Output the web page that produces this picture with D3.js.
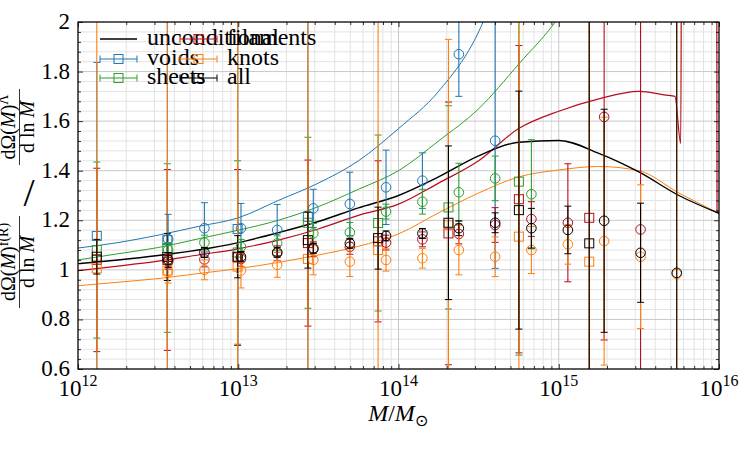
<!DOCTYPE html>
<html>
<head>
<meta charset="utf-8">
<script src="https://cdn.jsdelivr.net/npm/d3@7"></script>
<style>
  body { margin: 0; background: #fff; }
  svg text { font-family: "Liberation Serif", "Times New Roman", serif; fill: #000; }
</style>
</head>
<body>
<svg id="chart" width="750" height="450"></svg>
<script>
// ---- data ----
// theory curves (mass, ratio)
const curveMass = [1e12, 1.778e12, 3.162e12, 5.623e12, 1e13, 1.778e13, 3.162e13, 5.623e13,
                   1e14, 1.778e14, 3.162e14, 5.623e14, 1e15, 1.778e15, 3.162e15, 5.623e15, 1e16];
const uncond   = [1.025, 1.04, 1.058, 1.08, 1.11, 1.15, 1.195, 1.25, 1.30, 1.375, 1.46, 1.515, 1.522, 1.47, 1.395, 1.30, 1.228];
const voidsTh  = [1.088, 1.11, 1.14, 1.175, 1.21, 1.28, 1.35, 1.44, 1.57, 1.72, 1.96, 2.4, null, null, null, null, null];
const sheetsTh = [1.04, 1.065, 1.09, 1.125, 1.16, 1.20, 1.255, 1.325, 1.40, 1.52, 1.65, 1.83, 2.02, 2.3, null, null, null];
const knotsTh  = [0.936, 0.95, 0.965, 0.985, 1.005, 1.03, 1.06, 1.095, 1.145, 1.23, 1.31, 1.375, 1.403, 1.417, 1.40, 1.31, 1.228];
const filMass  = [1e12, 1.778e12, 3.162e12, 5.623e12, 1e13, 1.778e13, 3.162e13, 5.623e13, 1e14, 1.778e14,
                  3.162e14, 5.623e14, 1e15, 1.778e15, 3.162e15, 4.68e15, 5.31e15, 5.77e15, 5.85e15, 9.68e15, 9.72e15, 1e16];
const filTh    = [0.997, 1.015, 1.035, 1.06, 1.085, 1.12, 1.165, 1.22, 1.265, 1.35, 1.44, 1.57, 1.64, 1.69, 1.72,
                  1.705, 1.70, 1.51, 2.5, 2.5, 1.24, 1.228];

// measured points, squares
const massSq     = [1.31e12, 3.61e12, 9.91e12, 2.72e13, 7.46e13, 2.05e14, 5.64e14, 1.55e15];
const voidsSq    = [1.137, 1.12, 1.165, 1.214, null, null, null, null];
const voidsSqErr = [0.70, 0.9, 0.9, 0.9, null, null, null, null];
const sheetsSq    = [1.08, 1.088, 1.07, 1.19, 1.189, 1.252, 1.356, null];
const sheetsSqErr = [0.355, 0.34, 0.37, 0.345, 0.355, 0.41, 0.7, null];
const filSq    = [1.04, 1.04, 1.05, 1.108, 1.115, 1.147, 1.285, 1.21];
const filSqErr = [0.37, 0.365, 0.355, 0.335, 0.325, 0.53, 0.62, 1.5];
const knotsSq    = [1.006, 0.997, 1.013, 1.044, 1.08, 1.18, 1.134, 1.033];
const knotsSqErr = [1.5, 1.5, 1.5, 1.5, 1.5, 0.75, 1.5, 1.5];
const allSq    = [1.053, 1.052, 1.053, 1.12, 1.128, 1.19, 1.241, 1.107];
const allSqErr = [0.07, 0.095, 0.085, 0.113, 0.125, 0.31, 0.48, 1.5];

// measured points, circles
const massCi = [3.65e12, 6.15e12, 1.04e13, 1.75e13, 2.94e13, 4.97e13, 8.36e13, 1.41e14,
                2.38e14, 4.01e14, 6.75e14, 1.14e15, 1.92e15, 3.24e15, 5.45e15];
const voidsCi    = [1.124, 1.168, 1.168, 1.161, 1.248, 1.266, 1.333, 1.36, 1.87, 1.521, null, null, null, null, null];
const voidsCiErr = [0.10, 0.103, 0.10, 0.103, 0.077, 0.128, 0.15, 0.112, 0.17, 0.515, null, null, null, null, null];
const sheetsCi    = [1.08, 1.11, 1.093, 1.107, 1.147, 1.151, 1.235, 1.275, 1.313, 1.369, 1.305, null, null, null, null];
const sheetsCiErr = [0.03, 0.03, 0.03, 0.03, 0.04, 0.04, 0.03, 0.05, 0.117, 0.09, 0.22, null, null, null, null];
const filCi    = [1.033, 1.042, 1.044, 1.067, 1.083, 1.093, 1.11, 1.123, 1.145, 1.181, 1.205, 1.19, 1.617, 1.163, null];
const filCiErr = [0.03, 0.03, 0.03, 0.03, 0.03, 0.03, 0.03, 0.03, 0.04, 0.07, 0.07, 0.238, 0.9, 1.5, null];
const knotsCi    = [0.992, 1.0, 0.997, 1.02, 1.04, 1.033, 1.04, 1.047, 1.08, 1.053, 1.08, 1.103, 1.116, 1.053, 0.983];
const knotsCiErr = [0.045, 0.04, 0.07, 0.05, 0.06, 0.06, 0.045, 0.04, 0.1, 0.08, 0.095, 0.08, 0.5, 0.29, 1.5];
const allCi    = [1.04, 1.07, 1.053, 1.071, 1.087, 1.107, 1.137, 1.147, 1.168, 1.19, 1.168, 1.161, 1.198, 1.069, 0.988];
const allCiErr = [0.03, 0.02, 0.02, 0.02, 0.02, 0.02, 0.02, 0.02, 0.03, 0.04, 0.08, 0.096, 0.45, 0.2, 1.5];

// ticks
const xMajor = [1e12, 1e13, 1e14, 1e15, 1e16];
const xExp = ["12", "13", "14", "15", "16"];
const yMajor = [0.6, 0.8, 1.0, 1.2, 1.4, 1.6, 1.8, 2.0];
const yLabels = ["0.6", "0.8", "1", "1.2", "1.4", "1.6", "1.8", "2"];

const colors = {uncond: "#000000", voids: "#1f77b4", sheets: "#2ca02c", fil: "#b80c1a", knots: "#ff7f0e", all: "#000000"};
const serif = "'Liberation Serif', 'Times New Roman', serif";

// ---- layout ----
const svg = d3.select("#chart").style("font-family", serif);
const pL = 78, pR = 719, pT = 22, pB = 369;

const x = d3.scaleLog().domain([1e12, 1e16]).range([pL, pR]);
const y = d3.scaleLinear().domain([0.6, 2]).range([pB, pT]);

svg.append("defs").append("clipPath").attr("id", "plotclip")
  .append("rect").attr("x", pL).attr("y", pT).attr("width", pR - pL).attr("height", pB - pT);

// grid
const xMinor = [];
xMajor.slice(0, 4).forEach(d => { for (let m = 2; m <= 9; m++) xMinor.push(d * m); });
const yMinor = d3.range(0.6, 2.0001, 0.04).filter(v => !yMajor.some(t => Math.abs(t - v) < 1e-6));

const grid = svg.append("g");
grid.selectAll(".gxm").data(xMinor).enter().append("line")
  .attr("x1", d => x(d)).attr("x2", d => x(d)).attr("y1", pT).attr("y2", pB)
  .attr("stroke", "#e3e3e3").attr("stroke-width", 1);
grid.selectAll(".gym").data(yMinor).enter().append("line")
  .attr("x1", pL).attr("x2", pR).attr("y1", d => y(d)).attr("y2", d => y(d))
  .attr("stroke", "#e3e3e3").attr("stroke-width", 1);
grid.selectAll(".gx").data(xMajor).enter().append("line")
  .attr("x1", d => x(d)).attr("x2", d => x(d)).attr("y1", pT).attr("y2", pB)
  .attr("stroke", "#c8c8c8").attr("stroke-width", 1);
grid.selectAll(".gy").data(yMajor).enter().append("line")
  .attr("x1", pL).attr("x2", pR).attr("y1", d => y(d)).attr("y2", d => y(d))
  .attr("stroke", "#c8c8c8").attr("stroke-width", 1);

const plot = svg.append("g").attr("clip-path", "url(#plotclip)");

// theory curves
const line = d3.line()
  .defined(d => d[1] != null)
  .x(d => x(d[0])).y(d => y(d[1]))
  .curve(d3.curveMonotoneX);

function drawCurve(mass, vals, color, w) {
  plot.append("path")
    .datum(mass.map((m, i) => [m, vals[i]]))
    .attr("d", line)
    .attr("fill", "none").attr("stroke", color).attr("stroke-width", w);
}
drawCurve(curveMass, voidsTh, colors.voids, 1);
drawCurve(curveMass, sheetsTh, colors.sheets, 1);
drawCurve(filMass, filTh, colors.fil, 1.2);
drawCurve(curveMass, knotsTh, colors.knots, 1);
drawCurve(curveMass, uncond, colors.uncond, 1.4);

// data points with error bars
function drawPoints(mass, vals, errs, color, shape) {
  const pts = mass.map((m, i) => ({m: m, v: vals[i], e: errs[i]})).filter(d => d.v != null);
  const g = plot.append("g");
  g.selectAll(".eb").data(pts).enter().append("line")
    .attr("x1", d => x(d.m)).attr("x2", d => x(d.m))
    .attr("y1", d => y(d.v - d.e)).attr("y2", d => y(d.v + d.e))
    .attr("stroke", color).attr("stroke-width", 1.1);
  [-1, 1].forEach(s => {
    g.selectAll(".cap").data(pts).enter().append("line")
      .attr("x1", d => x(d.m) - 3.5).attr("x2", d => x(d.m) + 3.5)
      .attr("y1", d => y(d.v + s * d.e)).attr("y2", d => y(d.v + s * d.e))
      .attr("stroke", color).attr("stroke-width", 1);
  });
  if (shape === "square") {
    g.selectAll(".mk").data(pts).enter().append("rect")
      .attr("x", d => x(d.m) - 4.5).attr("y", d => y(d.v) - 4.5)
      .attr("width", 9).attr("height", 9)
      .attr("fill", "none").attr("stroke", color).attr("stroke-width", 1);
  } else {
    g.selectAll(".mk").data(pts).enter().append("circle")
      .attr("cx", d => x(d.m)).attr("cy", d => y(d.v)).attr("r", 4.8)
      .attr("fill", "none").attr("stroke", color).attr("stroke-width", 1);
  }
}
drawPoints(massSq, voidsSq, voidsSqErr, colors.voids, "square");
drawPoints(massSq, sheetsSq, sheetsSqErr, colors.sheets, "square");
drawPoints(massSq, filSq, filSqErr, colors.fil, "square");
drawPoints(massSq, knotsSq, knotsSqErr, colors.knots, "square");
drawPoints(massSq, allSq, allSqErr, colors.all, "square");
drawPoints(massCi, voidsCi, voidsCiErr, colors.voids, "circle");
drawPoints(massCi, sheetsCi, sheetsCiErr, colors.sheets, "circle");
drawPoints(massCi, filCi, filCiErr, colors.fil, "circle");
drawPoints(massCi, knotsCi, knotsCiErr, colors.knots, "circle");
drawPoints(massCi, allCi, allCiErr, colors.all, "circle");

// axes (ticks inside, on all four sides)
svg.append("g").attr("transform", "translate(0," + pB + ")")
  .call(d3.axisBottom(x).tickValues(xMajor).tickSize(-5).tickFormat(""));
svg.append("g").attr("transform", "translate(0," + pT + ")")
  .call(d3.axisTop(x).tickValues(xMajor).tickSize(-5).tickFormat(""));
svg.append("g").attr("transform", "translate(0," + pB + ")")
  .call(d3.axisBottom(x).tickValues(xMinor).tickSize(-3).tickFormat(""));
svg.append("g").attr("transform", "translate(0," + pT + ")")
  .call(d3.axisTop(x).tickValues(xMinor).tickSize(-3).tickFormat(""));
svg.append("g").attr("transform", "translate(" + pL + ",0)")
  .call(d3.axisLeft(y).tickValues(yMajor).tickSize(-5).tickFormat(""));
svg.append("g").attr("transform", "translate(" + pR + ",0)")
  .call(d3.axisRight(y).tickValues(yMajor).tickSize(-5).tickFormat(""));
svg.append("g").attr("transform", "translate(" + pL + ",0)")
  .call(d3.axisLeft(y).tickValues(yMinor).tickSize(-3).tickFormat(""));
svg.append("g").attr("transform", "translate(" + pR + ",0)")
  .call(d3.axisRight(y).tickValues(yMinor).tickSize(-3).tickFormat(""));
svg.selectAll(".domain").remove();
svg.selectAll(".tick line").attr("stroke", "#000").attr("stroke-width", 0.8);

svg.append("rect").attr("x", pL).attr("y", pT).attr("width", pR - pL).attr("height", pB - pT)
  .attr("fill", "none").attr("stroke", "#000").attr("stroke-width", 1.2);

// tick labels
xMajor.forEach((d, i) => {
  const t = svg.append("text").attr("x", x(d)).attr("y", 396).attr("text-anchor", "middle")
    .style("font-family", serif).style("font-size", "23px");
  t.append("tspan").text("10");
  t.append("tspan").attr("dy", -10).style("font-size", "16px").text(xExp[i]);
});
yMajor.forEach((d, i) => {
  svg.append("text").attr("x", 70).attr("y", y(d) + 7).attr("text-anchor", "end")
    .style("font-family", serif).style("font-size", "23px").text(yLabels[i]);
});

// axis labels
const xl = svg.append("text").attr("x", 398).attr("y", 421).attr("text-anchor", "middle")
  .style("font-family", serif).style("font-size", "24px");
xl.append("tspan").style("font-style", "italic").text("M");
xl.append("tspan").text("/");
xl.append("tspan").style("font-style", "italic").text("M");
xl.append("tspan").attr("dy", 5).style("font-size", "16px").text("\u2299");

function fraction(cy, sup, half) {
  const g = svg.append("g").attr("transform", "translate(0," + cy + ") rotate(-90)")
    .style("font-family", serif);
  const n = g.append("text").attr("x", 0).attr("y", 15).attr("text-anchor", "middle").style("font-size", "20px");
  n.append("tspan").text("d\u03a9(");
  n.append("tspan").style("font-style", "italic").text("M");
  n.append("tspan").text(")");
  n.append("tspan").attr("dy", -7).style("font-size", "14px").text(sup);
  g.append("line").attr("x1", -half).attr("x2", half).attr("y1", 19.5).attr("y2", 19.5)
    .attr("stroke", "#000").attr("stroke-width", 0.8);
  const dd = g.append("text").attr("x", 0).attr("y", 34).attr("text-anchor", "middle").style("font-size", "20px");
  dd.append("tspan").text("d ln ");
  dd.append("tspan").style("font-style", "italic").text("M");
}
fraction(262, "f(R)", 46);
fraction(127, "\u039b", 38);
svg.append("text").attr("x", 29).attr("y", 206).attr("text-anchor", "middle")
  .style("font-family", serif).style("font-size", "40px").text("/");

// legend
const legRows = [39, 59, 78];
const legend = [
  {label: "unconditional", color: colors.uncond, col: 0, row: 0, marker: false},
  {label: "voids", color: colors.voids, col: 0, row: 1, marker: true},
  {label: "sheets", color: colors.sheets, col: 0, row: 2, marker: true},
  {label: "filaments", color: colors.fil, col: 1, row: 0, marker: true},
  {label: "knots", color: colors.knots, col: 1, row: 1, marker: true},
  {label: "all", color: colors.all, col: 1, row: 2, marker: true}
];
const legX = [100, 180];
legend.forEach(d => {
  const x0 = legX[d.col], yy = legRows[d.row];
  const g = svg.append("g");
  g.append("line").attr("x1", x0).attr("x2", x0 + 37).attr("y1", yy).attr("y2", yy)
    .attr("stroke", d.color).attr("stroke-width", d.marker ? 1 : 1.3);
  if (d.marker) {
    [x0, x0 + 37].forEach(cx => g.append("line").attr("x1", cx).attr("x2", cx)
      .attr("y1", yy - 3.5).attr("y2", yy + 3.5).attr("stroke", d.color));
    g.append("rect").attr("x", x0 + 18.5 - 4.5).attr("y", yy - 4.5).attr("width", 9).attr("height", 9)
      .attr("fill", "none").attr("stroke", d.color);
  }
  g.append("text").attr("x", x0 + 47).attr("y", yy + 6)
    .style("font-family", serif).style("font-size", "24px").text(d.label);
});
</script>
</body>
</html>
